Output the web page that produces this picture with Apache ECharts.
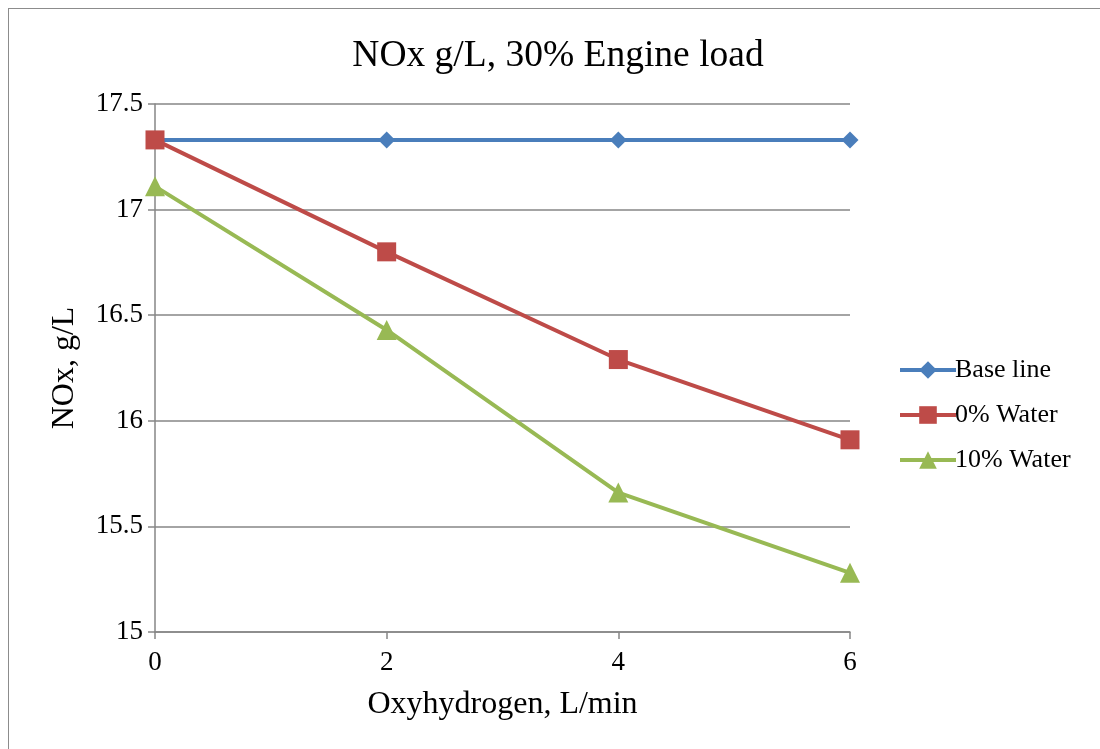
<!DOCTYPE html>
<html>
<head>
<meta charset="utf-8">
<script src="https://cdn.jsdelivr.net/npm/echarts@6/dist/echarts.min.js"></script>
<style>
  html, body { margin: 0; padding: 0; background: #fff; }
  #chart { position: absolute; left: 8px; top: 8px; width: 1092px; height: 741px;
           border-left: 1px solid #8c8c8c; border-top: 1px solid #8c8c8c; box-sizing: border-box; }
</style>
</head>
<body>
<div id="chart"></div>
<script>
// data
var xValues = [0, 2, 4, 6];
var baseLine = [17.33, 17.33, 17.33, 17.33];
var water0 = [17.33, 16.80, 16.29, 15.91];
var water10 = [17.11, 16.43, 15.66, 15.28];

function pairs(ys) {
  return xValues.map(function (x, i) { return [x, ys[i]]; });
}

var serif = '"Liberation Serif", "Times New Roman", serif';
var chart = echarts.init(document.getElementById('chart'));
var option = {
  animation: false,
  textStyle: { fontFamily: serif },
  title: {
    text: 'NOx g/L, 30% Engine load',
    left: 544, top: 23, textAlign: 'center',
    textStyle: { fontFamily: serif, fontSize: 37.5, fontWeight: 'normal', color: '#000' }
  },
  legend: {
    orient: 'vertical',
    left: 884, top: 343,
    itemWidth: 56, itemHeight: 22, itemGap: 19,
    lineStyle: { width: 4 },
    textStyle: { fontFamily: serif, fontSize: 26, color: '#000', padding: [0, 0, 0, -6] },
    data: ['Base line', '0% Water', '10% Water']
  },
  grid: { left: 146, right: 250, top: 95, bottom: 117 },
  xAxis: {
    type: 'value', min: 0, max: 6, interval: 2,
    name: 'Oxyhydrogen, L/min', nameLocation: 'middle', nameGap: 57,
    nameTextStyle: { fontFamily: serif, fontSize: 32, color: '#000' },
    axisLine: { lineStyle: { color: '#868686', width: 1.5 } },
    axisTick: { show: true, length: 7, lineStyle: { color: '#868686', width: 1.5 } },
    axisLabel: { fontFamily: serif, fontSize: 27, color: '#000', margin: 17 },
    splitLine: { show: false }
  },
  yAxis: {
    type: 'value', min: 15, max: 17.5, interval: 0.5,
    name: 'NOx, g/L', nameLocation: 'middle', nameGap: 74, nameRotate: 90,
    nameTextStyle: { fontFamily: serif, fontSize: 32, color: '#000' },
    axisLine: { show: true, lineStyle: { color: '#868686', width: 1.5 } },
    axisTick: { show: true, length: 7, lineStyle: { color: '#868686', width: 1.5 } },
    axisLabel: { fontFamily: serif, fontSize: 27, color: '#000', margin: 12 },
    splitLine: { show: true, lineStyle: { color: '#868686', width: 1.5 } }
  },
  series: [
    {
      name: 'Base line', type: 'line', data: pairs(baseLine),
      symbol: 'diamond', symbolSize: 17,
      lineStyle: { color: '#4A7EBB', width: 4 },
      itemStyle: { color: '#4A7EBB' }
    },
    {
      name: '0% Water', type: 'line', data: pairs(water0),
      symbol: 'rect', symbolSize: 19,
      lineStyle: { color: '#BE4B48', width: 4 },
      itemStyle: { color: '#BE4B48' }
    },
    {
      name: '10% Water', type: 'line', data: pairs(water10),
      symbol: 'triangle', symbolSize: 20,
      lineStyle: { color: '#98B954', width: 4 },
      itemStyle: { color: '#98B954' }
    }
  ]
};
chart.setOption(option);
window.addEventListener('resize', function () {
  chart.resize();
});
</script>
</body>
</html>
